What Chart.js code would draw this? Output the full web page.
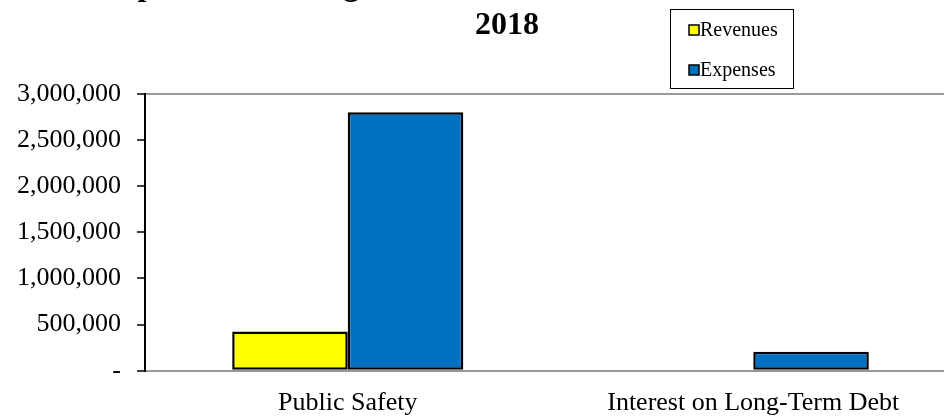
<!DOCTYPE html>
<html>
<head>
<meta charset="utf-8">
<script src="https://cdn.jsdelivr.net/npm/chart.js@4/dist/chart.umd.min.js"></script>
<style>
  html, body { margin: 0; padding: 0; background: #fff; overflow: hidden; }
  #wrap { position: relative; width: 944px; height: 416px; overflow: hidden; }
  #chart { position: absolute; left: 0; top: -40px; }
</style>
</head>
<body>
<div id="wrap"><canvas id="chart" width="1014" height="490"></canvas></div>
<script>
// Données du graphique
const categories = ['Public Safety', 'Interest on Long-Term Debt'];
const revenues = [425000, 0];
const expenses = [2800000, 205000];
const titleLines = ['Expenses and Program Revenues - Governmental Activities', '2018'];
const yTicks = [0, 500000, 1000000, 1500000, 2000000, 2500000, 3000000];

const serif = '"Liberation Serif", "Times New Roman", serif';

// Légende encadrée dessinée à la main (comme dans l'original)
const boxLegend = {
  id: 'boxLegend',
  afterDraw(chart) {
    const ctx = chart.ctx;
    ctx.save();
    ctx.fillStyle = '#fff';
    ctx.strokeStyle = '#000';
    ctx.lineWidth = 1;
    ctx.fillRect(670.5, 49.5, 123, 79);
    ctx.strokeRect(670.5, 49.5, 123, 79);
    ctx.font = '20px ' + serif;
    ctx.textBaseline = 'middle';
    chart.data.datasets.forEach((ds, i) => {
      const y = 70 + i * 40;
      ctx.fillStyle = ds.backgroundColor;
      ctx.fillRect(689, y - 5, 10, 10);
      ctx.lineWidth = 1.5;
      ctx.strokeRect(689, y - 5, 10, 10);
      ctx.fillStyle = '#000';
      ctx.fillText(ds.label, 700, y + 1);
    });
    ctx.restore();
  }
};

new Chart(document.getElementById('chart'), {
  type: 'bar',
  data: {
    labels: categories,
    datasets: [
      { label: 'Revenues', data: revenues, backgroundColor: '#FFFF00' },
      { label: 'Expenses', data: expenses, backgroundColor: '#0070C0' }
    ]
  },
  options: {
    responsive: false,
    animation: false,
    layout: { padding: { left: 0, right: 0, top: 0, bottom: 14 } },
    datasets: {
      bar: {
        borderColor: '#000',
        borderWidth: 2.5,
        borderSkipped: false,
        barPercentage: 1,
        categoryPercentage: 0.57
      }
    },
    plugins: {
      legend: { display: false },
      tooltip: { enabled: false },
      title: {
        display: true,
        text: titleLines,
        color: '#000',
        font: { family: serif, size: 32, weight: 'bold', lineHeight: 1.2 },
        padding: { top: 8, bottom: 49 }
      }
    },
    scales: {
      x: {
        grid: { color: 'transparent', drawTicks: false },
        border: { color: '#999', width: 2 },
        ticks: { color: '#000', padding: 17, font: { family: serif, size: 26 } }
      },
      y: {
        min: 0,
        max: 3000000,
        afterBuildTicks: (scale) => { scale.ticks = yTicks.map(v => ({ value: v })); },
        afterFit: (scale) => { scale.width = 145; },
        grid: {
          color: (c) => c.tick && c.tick.value === 3000000 ? '#999' : 'transparent',
          lineWidth: 2,
          tickColor: '#000',
          tickWidth: 1.5,
          tickLength: 8
        },
        border: { color: '#000', width: 2 },
        ticks: {
          color: '#000',
          padding: 16,
          font: { family: serif, size: 26 },
          callback: (v) => v === 0 ? '-' : v.toLocaleString('en-US')
        }
      },
      // axe vide à droite : réserve la marge sans décentrer le titre
      right: {
        position: 'right',
        display: true,
        grid: { display: false, drawTicks: false },
        border: { display: false },
        ticks: { display: false },
        afterFit: (scale) => { scale.width = 58; }
      }
    }
  },
  plugins: [boxLegend]
});
</script>
</body>
</html>
